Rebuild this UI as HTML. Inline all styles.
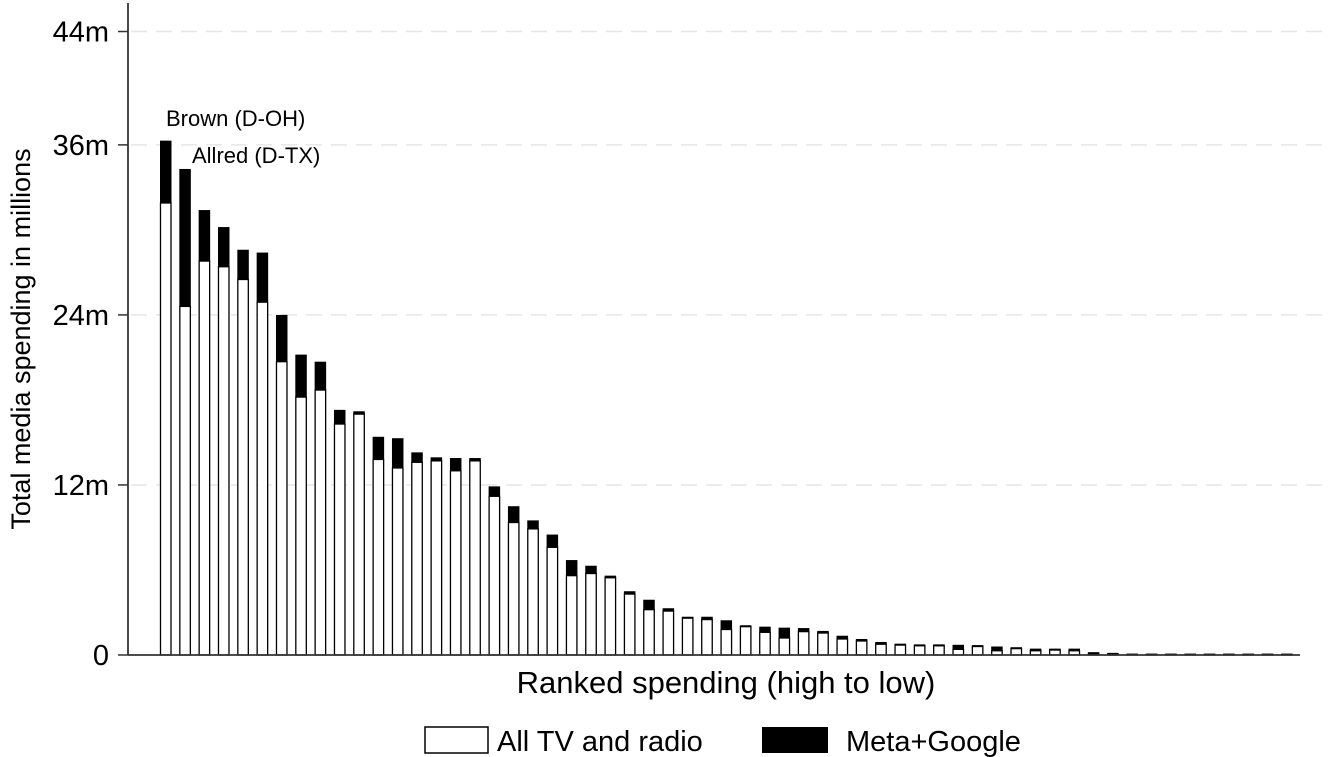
<!DOCTYPE html>
<html><head><meta charset="utf-8"><style>
html,body{margin:0;padding:0;background:#fff;}
svg{display:block;font-family:"Liberation Sans",Arial,sans-serif;}
</style></head><body>
<svg id="chart" width="1328" height="757" viewBox="0 0 1328 757">
<g id="grid"></g>
<g id="bars"></g>
<g id="axes"></g>
<text x="166" y="126" font-size="22">Brown (D-OH)</text>
<text x="192" y="163" font-size="22">Allred (D-TX)</text>
<text x="726" y="693" font-size="31" text-anchor="middle">Ranked spending (high to low)</text>
<text transform="translate(30,339) rotate(-90)" font-size="27" text-anchor="middle">Total media spending in millions</text>
<g>
<rect x="425" y="727" width="63" height="26" fill="#fff" stroke="#000" stroke-width="1.5"/>
<text x="497" y="751" font-size="29">All TV and radio</text>
<rect x="762" y="727" width="66" height="26" fill="#000"/>
<text x="846" y="751" font-size="29">Meta+Google</text>
</g>
</svg>
<script>
const tvValues=[31.9,24.6,27.8,27.4,26.5,24.9,20.7,18.2,18.7,16.3,17.0,13.8,13.2,13.6,13.7,13.0,13.7,11.2,9.35,8.9,7.6,5.6,5.75,5.45,4.3,3.2,3.1,2.6,2.5,1.8,2.0,1.6,1.2,1.65,1.55,1.13,0.99,0.76,0.7,0.65,0.65,0.4,0.6,0.3,0.45,0.3,0.35,0.3,0.05,0.05,0.03,0.03,0.03,0.03,0.03,0.03,0.03,0.03,0.03];
const totalValues=[36.3,34.3,31.4,30.2,28.6,28.4,24.0,21.2,20.7,17.3,17.2,15.4,15.3,14.3,13.95,13.9,13.9,11.9,10.5,9.5,8.5,6.7,6.3,5.6,4.5,3.9,3.3,2.7,2.7,2.45,2.1,2.0,1.93,1.9,1.7,1.36,1.13,0.92,0.8,0.75,0.75,0.72,0.7,0.6,0.55,0.45,0.45,0.45,0.2,0.15,0.1,0.1,0.1,0.1,0.1,0.1,0.1,0.1,0.1];
const yTicks=[0,12,24,36,44];
const yTickLabels=["0","12m","24m","36m","44m"];
const NS="http://www.w3.org/2000/svg";
const y0=655, pxPerM=14.17, x0=160, step=19.33, bw=11.5;
function yScale(v){return y0-v*pxPerM;}
function xScale(i){return x0+i*step;}
function mk(tag,attrs,parent){const e=document.createElementNS(NS,tag);for(const k in attrs)e.setAttribute(k,attrs[k]);parent.appendChild(e);return e;}
const grid=document.getElementById('grid'),bars=document.getElementById('bars'),axes=document.getElementById('axes');
yTicks.forEach((t,i)=>{
  const y=yScale(t);
  if(t>0){const g=mk('line',{x1:131,x2:1328,y1:y,y2:y,stroke:'#e6e6e6','stroke-width':1.5,'stroke-dasharray':'16,9'},grid);
  
  }
  const tk=mk('line',{x1:118,x2:128,y1:y,y2:y,stroke:'#333','stroke-width':1.5},axes);
  
  
  const lb=mk('text',{x:109,y:y+10,'font-size':29,'text-anchor':'end'},axes);
  lb.textContent=yTickLabels[i];
  
  
});
tvValues.forEach((tv,i)=>{
  const tot=totalValues[i],x=xScale(i);
  const w=mk('rect',{x:x+0.5,y:yScale(tv),width:bw-1,height:Math.max(0,y0-yScale(tv)),fill:'#fff',stroke:'#000','stroke-width':1.3},bars);
  
  
  const b=mk('rect',{x:x,y:yScale(tot),width:bw,height:Math.max(0,yScale(tv)-yScale(tot)),fill:'#000'},bars);
  
  
});
const ya=mk('line',{x1:128,x2:128,y1:3,y2:655,stroke:'#333','stroke-width':1.8},axes);


const xa=mk('line',{x1:128,x2:1300,y1:655,y2:655,stroke:'#333','stroke-width':1.8},axes);


</script>
</body></html>
